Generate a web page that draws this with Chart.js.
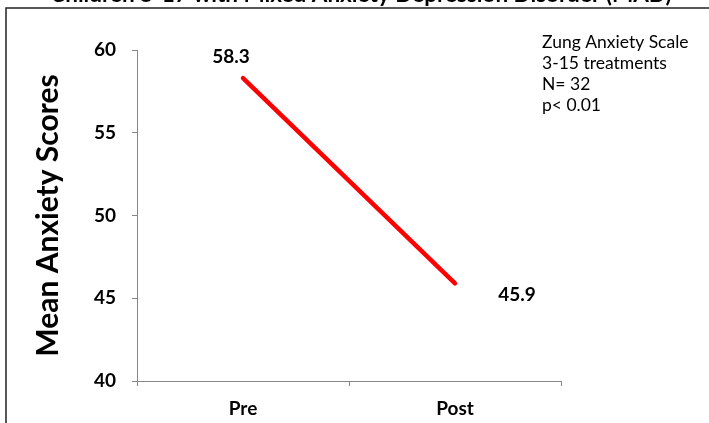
<!DOCTYPE html>
<html>
<head>
<meta charset="utf-8">
<script src="https://cdn.jsdelivr.net/npm/chart.js@4"></script>
<style>
  html, body { margin: 0; padding: 0; background: #fff; }
  #wrap { width: 709px; height: 423px; position: relative; }
</style>
</head>
<body>
<div id="wrap"><canvas id="anxietyChart"></canvas></div>
<script>
// Datos de la gráfica
const categories = ['Pre', 'Post'];
const meanScores = [58.3, 45.9];
const yTicks = [40, 45, 50, 55, 60];
const chartTitle = 'Children 5-17 with Mixed Anxiety Depression Disorder (MAD)';
const noteLines = ['Zung Anxiety Scale', '3-15 treatments', 'N= 32', 'p< 0.01'];

const FONT = 'Lato, "Open Sans", sans-serif';

// Marco, título recortado y notas
const framePlugin = {
    id: 'frame',
    afterDraw(chart) {
        const ctx = chart.ctx;
        ctx.save();
        ctx.fillStyle = '#000';
        ctx.font = 'bold 22.5px ' + FONT;
        ctx.textAlign = 'center';
        ctx.textBaseline = 'alphabetic';
        ctx.fillText(chartTitle, 361, 2);

        ctx.strokeStyle = '#222';
        ctx.lineWidth = 1.5;
        ctx.beginPath();
        ctx.moveTo(6, 423);
        ctx.lineTo(6, 8);
        ctx.lineTo(709, 8);
        ctx.stroke();

        ctx.font = '17.5px ' + FONT;
        ctx.textAlign = 'left';
        ctx.textBaseline = 'middle';
        noteLines.forEach((t, i) => ctx.fillText(t, 542, 42 + i * 21));
        ctx.restore();
    }
};

// Etiquetas de valores
const labelOffsets = [[-12, -21], [62, 12]];
const valueLabels = {
    id: 'valueLabels',
    afterDatasetsDraw(chart) {
        const ctx = chart.ctx;
        const meta = chart.getDatasetMeta(0);
        ctx.save();
        ctx.font = 'bold 19px ' + FONT;
        ctx.fillStyle = '#000';
        ctx.textAlign = 'center';
        ctx.textBaseline = 'middle';
        meta.data.forEach((pt, i) => {
            ctx.fillText(meanScores[i].toFixed(1), pt.x + labelOffsets[i][0], pt.y + labelOffsets[i][1]);
        });
        ctx.restore();
    }
};

const ctx = document.getElementById('anxietyChart');
new Chart(ctx, {
    type: 'line',
    data: {
        labels: categories,
        datasets: [{
            data: meanScores,
            borderColor: '#ff0000',
            borderWidth: 4.5,
            borderCapStyle: 'round',
            pointRadius: 0,
            tension: 0
        }]
    },
    options: {
        responsive: true,
        maintainAspectRatio: false,
        animation: false,
        layout: { padding: { top: 50, right: 148, left: 0, bottom: 0 } },
        plugins: {
            legend: { display: false },
            tooltip: { enabled: false }
        },
        scales: {
            x: {
                offset: true,
                grid: { offset: true, drawOnChartArea: false, color: '#888', tickLength: 5 },
                border: { color: '#888', width: 1 },
                ticks: { color: '#000', font: { family: FONT, size: 19, weight: 'bold' }, padding: 11 },
                afterFit(scale) { scale.height = 42; }
            },
            y: {
                min: 40,
                max: 60,
                afterBuildTicks(scale) { scale.ticks = yTicks.map(v => ({ value: v })); },
                grid: { drawOnChartArea: false, color: '#888', tickLength: 5 },
                border: { color: '#888', width: 1 },
                ticks: { color: '#000', font: { family: FONT, size: 19, weight: 'bold' }, padding: 16 },
                title: {
                    display: true,
                    text: 'Mean Anxiety Scores',
                    color: '#000',
                    font: { family: FONT, size: 30, weight: 'bold' },
                    padding: { top: 30, bottom: 0 }
                },
                afterFit(scale) { scale.width = 137; }
            }
        }
    },
    plugins: [framePlugin, valueLabels]
});
</script>
</body>
</html>
